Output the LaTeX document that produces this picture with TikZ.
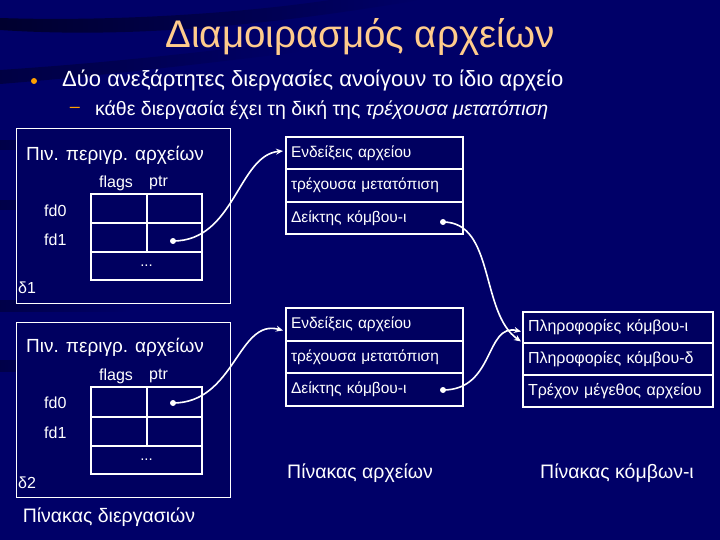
\documentclass[tikz,border=0pt]{standalone}
\usepackage{fontspec}
\setmainfont{Liberation Sans}
\usetikzlibrary{calc,arrows.meta,fadings}
\definecolor{bgnavy}{RGB}{0,0,104}
\definecolor{boxnavy}{RGB}{0,0,96}
\definecolor{titlecol}{RGB}{255,204,140}
\definecolor{bulletcol}{RGB}{255,160,0}
\begin{document}
\begin{tikzpicture}[x=1pt,y=-1pt,
  lbl/.style={text=white,inner sep=0pt,anchor=west,font=\fontsize{16}{16}\selectfont},
  big/.style={text=white,inner sep=0pt,font=\fontsize{19.5}{19.5}\selectfont},
  frame/.style={draw=white,line width=0.9pt,fill=boxnavy,inner sep=0pt,anchor=north west},
  cell/.style={draw=white,line width=2pt,inner sep=0pt,minimum height=29pt,text=white,font=\fontsize{15}{15}\selectfont},
  frow/.style={draw=white,line width=2pt,fill=boxnavy,inner sep=0pt,minimum width=177pt,text width=167pt,align=left,text=white,font=\fontsize{15.5}{15.5}\selectfont},
  irow/.style={draw=white,line width=2pt,fill=boxnavy,inner sep=0pt,minimum width=190pt,text width=180pt,align=left,text=white,font=\fontsize{16}{16}\selectfont},
  ptrline/.style={draw=white,line width=1.6pt,-{Stealth[length=7pt,width=6pt]}},
  ptrdot/.style={fill=white}
]
\useasboundingbox (0,0) rectangle (720,540);
\fill[bgnavy] (0,0) rectangle (720,540);
% dark swooshes
\fill[black,opacity=0.55,path fading=east] (0,30) .. controls (150,40) and (300,20) .. (420,0) -- (330,0) .. controls (250,12) and (120,22) .. (0,18) -- cycle;
\fill[black,opacity=0.35,path fading=east] (0,70) .. controls (120,62) and (220,50) .. (300,40) -- (300,52) .. controls (200,64) and (100,76) .. (0,84) -- cycle;
\fill[black,opacity=0.3,path fading=east] (0,140) rectangle (120,150);
\fill[black,opacity=0.3,path fading=east] (0,200) rectangle (140,210);
\fill[black,opacity=0.3,path fading=east] (0,300) rectangle (130,312);
\fill[black,opacity=0.3,path fading=east] (0,360) rectangle (110,372);

% title and bullets
\node[text=titlecol,inner sep=0pt,font=\fontsize{38.5}{38.5}\selectfont] (title) at (360,37) {Διαμοιρασμός αρχείων};
\fill[bulletcol] (34,81) circle (3pt);
\node[text=white,inner sep=0pt,anchor=west,font=\fontsize{22}{22}\selectfont] (b1) at (62,80) {Δύο ανεξάρτητες διεργασίες ανοίγουν το ίδιο αρχείο};
\node[text=bulletcol,inner sep=0pt,font=\fontsize{18}{18}\selectfont] (dash) at (75,110) {–};
\node[text=white,inner sep=0pt,anchor=west,font=\fontsize{19.5}{19.5}\selectfont] (b2) at (95,110) {κάθε διεργασία έχει τη δική της \textit{τρέχουσα μετατόπιση}};

% process 1
\node[frame,minimum width=214pt,minimum height=175pt] (p1) at (16,128) {};
\node[big,anchor=west,font=\fontsize{19}{19}\selectfont] (p1t) at (26,155) {Πιν. περιγρ. αρχείων};
\node[lbl] (p1f) at (99,183) {flags};
\node[lbl] (p1p) at (149,183) {ptr};
\node[lbl] (p1l0) at (44,211) {fd0};
\node[lbl] (p1l1) at (44,240) {fd1};
\node[lbl] (p1d) at (18,288) {δ1};
\node[cell,minimum width=56pt] (a1) at (119,208.5) {};
\node[cell,minimum width=55pt] (a2) at (174.5,208.5) {};
\node[cell,minimum width=56pt] (a3) at (119,237.5) {};
\node[cell,minimum width=55pt] (a4) at (174.5,237.5) {};
\node[cell,minimum width=111pt,minimum height=28pt] (a5) at (146.5,266) {...};

% process 2
\node[frame,minimum width=214pt,minimum height=175pt] (p2) at (16,322) {};
\node[big,anchor=west,font=\fontsize{19}{19}\selectfont] (p2t) at (26,347) {Πιν. περιγρ. αρχείων};
\node[lbl] (p2f) at (99,376) {flags};
\node[lbl] (p2p) at (149,376) {ptr};
\node[lbl] (p2l0) at (44,403) {fd0};
\node[lbl] (p2l1) at (44,433) {fd1};
\node[lbl] (p2d) at (18,483) {δ2};
\node[cell,minimum width=56pt,minimum height=30pt] (c1) at (119,402) {};
\node[cell,minimum width=55pt,minimum height=30pt] (c2) at (174.5,402) {};
\node[cell,minimum width=56pt] (c3) at (119,431.5) {};
\node[cell,minimum width=55pt] (c4) at (174.5,431.5) {};
\node[cell,minimum width=111pt,minimum height=28pt] (c5) at (146.5,460) {...};
\node[big] (ptab) at (109,517) {Πίνακας διεργασιών};

% file table 1
\node[frow,minimum height=32pt] (f1) at (374.5,153) {Ενδείξεις αρχείου};
\node[frow,minimum height=33pt] (f2) at (374.5,185.5) {τρέχουσα μετατόπιση};
\node[frow,minimum height=32pt] (f3) at (374.5,218) {Δείκτης κόμβου-ι};
% file table 2
\node[frow,minimum height=33pt] (g1) at (374.5,324.5) {Ενδείξεις αρχείου};
\node[frow,minimum height=32pt] (g2) at (374.5,357) {τρέχουσα μετατόπιση};
\node[frow,minimum height=33pt] (g3) at (374.5,389.5) {Δείκτης κόμβου-ι};
\node[big] (ftab) at (360,473) {Πίνακας αρχείων};

% inode table
\node[irow,minimum height=31pt] (i1) at (618,327.5) {Πληροφορίες κόμβου-ι};
\node[irow,minimum height=32pt] (i2) at (618,359) {Πληροφορίες κόμβου-δ};
\node[irow,minimum height=32pt] (i3) at (618,391) {Τρέχον μέγεθος αρχείου};
\node[big] (itab) at (617,473) {Πίνακας κόμβων-ι};

% pointers
\coordinate (d1) at (173,241);
\coordinate (d2) at (173,403);
\coordinate (d3) at (443,222);
\coordinate (d4) at (443,390);
\fill[ptrdot] (d1) circle (3pt);
\fill[ptrdot] (d2) circle (3pt);
\fill[ptrdot] (d3) circle (3pt);
\fill[ptrdot] (d4) circle (3pt);
\coordinate (t3) at ($(i1.west)+(-1,14)$);
\coordinate (t4) at ($(i1.west)+(-1,4)$);
\draw[ptrline] (d1) .. controls (235,241) and (238,155) .. ($(f1.west)+(-2,-2)$);
\draw[ptrline] (d2) .. controls (235,403) and (238,318) .. ($(g1.west)+(-2,6)$);
\draw[ptrline] (d3) .. controls (495,222) and (480,313) .. (t3);
\draw[ptrline] (d4) .. controls (495,390) and (485,323) .. (t4);
\end{tikzpicture}
\end{document}
